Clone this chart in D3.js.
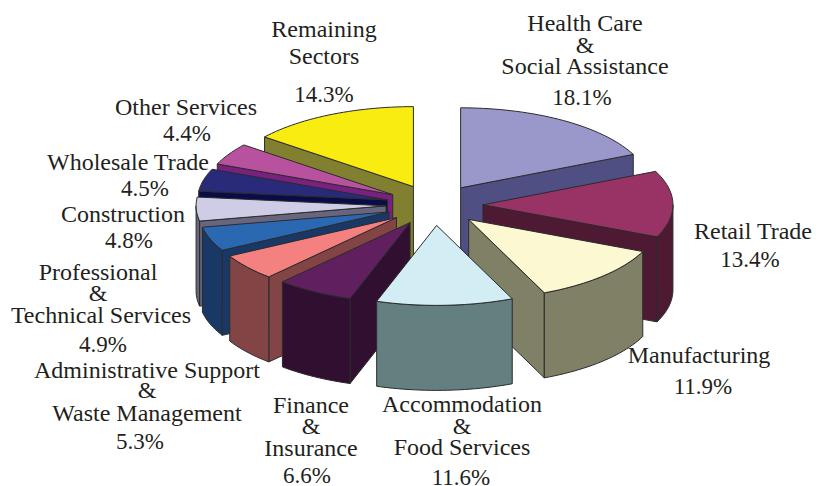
<!DOCTYPE html>
<html lang="en">

<head>
    <meta charset="UTF-8">
    <title>Employment by Sector</title>
    <script src="https://d3js.org/d3.v7.min.js"></script>
    <style>
        html, body {
            margin: 0;
            padding: 0;
            background: #fff;
        }

        svg {
            display: block;
        }

        text {
            font-family: "Liberation Serif", serif;
            font-size: 24px;
            fill: #231f20;
            text-anchor: middle;
        }

        text.share {
            font-size: 23px;
        }

        path {
            stroke: #2b2b2b;
            stroke-width: 1;
            stroke-linejoin: round;
        }
    </style>
</head>

<body>
    <svg id="chart" width="827" height="486"></svg>
</body>
<script>
    const sectors = ["Health Care", "Retail Trade", "Manufacturing", "Accommodation", "Finance",
        "Administrative Support", "Professional", "Construction", "Wholesale Trade", "Other Services", "Remaining Sectors"];
    const shares = [18.1, 13.4, 11.9, 11.6, 6.6, 5.3, 4.9, 4.8, 4.5, 4.4, 14.3];
    const topColors = ["#9a97ca", "#993366", "#fcf8d2", "#d2edf4", "#602060", "#f58080", "#2b68b2", "#cfcce6", "#2a2a7a", "#b8529e", "#f8ec10"];
    const sideColors = ["#4f4f83", "#4e1a33", "#808066", "#647f80", "#300f30", "#824444", "#1a3866", "#68667f", "#0a0c48", "#7a2080", "#808030"];

    // text lines above the share, one list per sector
    const labelLines = [
        ["Health Care", "&", "Social Assistance"],
        ["Retail Trade"],
        ["Manufacturing"],
        ["Accommodation", "&", "Food Services"],
        ["Finance", "&", "Insurance"],
        ["Administrative Support", "&", "Waste Management"],
        ["Professional", "&", "Technical Services"],
        ["Construction"],
        ["Wholesale Trade"],
        ["Other Services"],
        ["Remaining", "Sectors"]
    ];
    // [x, baseline] of each line, the last pair is the share
    const labelSpots = [
        [[585, 31], [585, 53], [585, 74], [582, 105]],
        [[753, 239], [750, 267]],
        [[699, 363], [703, 394]],
        [[462, 412], [462, 434], [462, 455], [461, 485]],
        [[311, 413], [311, 434], [311, 456], [307, 483]],
        [[147, 378], [147, 398], [147, 421], [140, 449]],
        [[98, 280], [98, 301], [101, 323], [103, 352]],
        [[123, 222], [129, 248]],
        [[128, 170], [145, 196]],
        [[186, 115], [187, 141]],
        [[324, 37], [324, 64], [324, 102]]
    ];

    const width = 827, height = 486;
    const cx = 434.5, cy = 205;   // pie centre before the slices are pulled out
    const rx = 190, ry = 80;      // flattened radius
    const depth = 85;
    const explode = 0.255;

    const svg = d3.select("#chart");

    const pie = d3.pie().sort(null)(shares);
    const slices = pie.map((p, i) => {
        const mid = (p.startAngle + p.endAngle) / 2;
        return {
            i,
            start: p.startAngle,
            end: p.endAngle,
            ax: cx + explode * rx * Math.sin(mid),
            ay: cy - explode * ry * Math.cos(mid)
        };
    });

    const rim = (s, a, dy = 0) => [s.ax + rx * Math.sin(a), s.ay - ry * Math.cos(a) + dy];

    function arcPoints(s, a0, a1, dy = 0) {
        const n = Math.max(2, Math.ceil(Math.abs(a1 - a0) / 0.03));
        return d3.range(n + 1).map(k => rim(s, a0 + (a1 - a0) * k / n, dy));
    }

    const line = d3.line();

    function drawWall(s, angle) {
        svg.append("path")
            .attr("d", line([[s.ax, s.ay], rim(s, angle), rim(s, angle, depth), [s.ax, s.ay + depth]]) + "Z")
            .attr("fill", sideColors[s.i]);
    }

    function drawSlice(s) {
        // radial walls that face the viewer
        if (s.start > Math.PI) drawWall(s, s.start);
        if (s.end < Math.PI) drawWall(s, s.end);

        // outer wall, only the front half of the rim shows
        const a0 = Math.max(s.start, Math.PI / 2), a1 = Math.min(s.end, 3 * Math.PI / 2);
        if (a1 > a0) {
            const pts = arcPoints(s, a0, a1).concat(arcPoints(s, a1, a0, depth));
            svg.append("path").attr("d", line(pts) + "Z").attr("fill", sideColors[s.i]);
        }

        svg.append("path")
            .attr("d", line([[s.ax, s.ay]].concat(arcPoints(s, s.start, s.end))) + "Z")
            .attr("fill", topColors[s.i]);
    }

    // back to front: left side from the top down, then right side, accommodation last on the right
    const paintOrder = [10, 9, 8, 7, 6, 5, 0, 1, 2, 4, 3];
    paintOrder.forEach(i => drawSlice(slices[i]));

    labelLines.forEach((lines, i) => {
        const rows = lines.concat(shares[i].toFixed(1) + "%");
        rows.forEach((t, j) => {
            svg.append("text")
                .attr("class", j === rows.length - 1 ? "share" : null)
                .attr("x", labelSpots[i][j][0])
                .attr("y", labelSpots[i][j][1])
                .text(t);
        });
    });
</script>

</html>
